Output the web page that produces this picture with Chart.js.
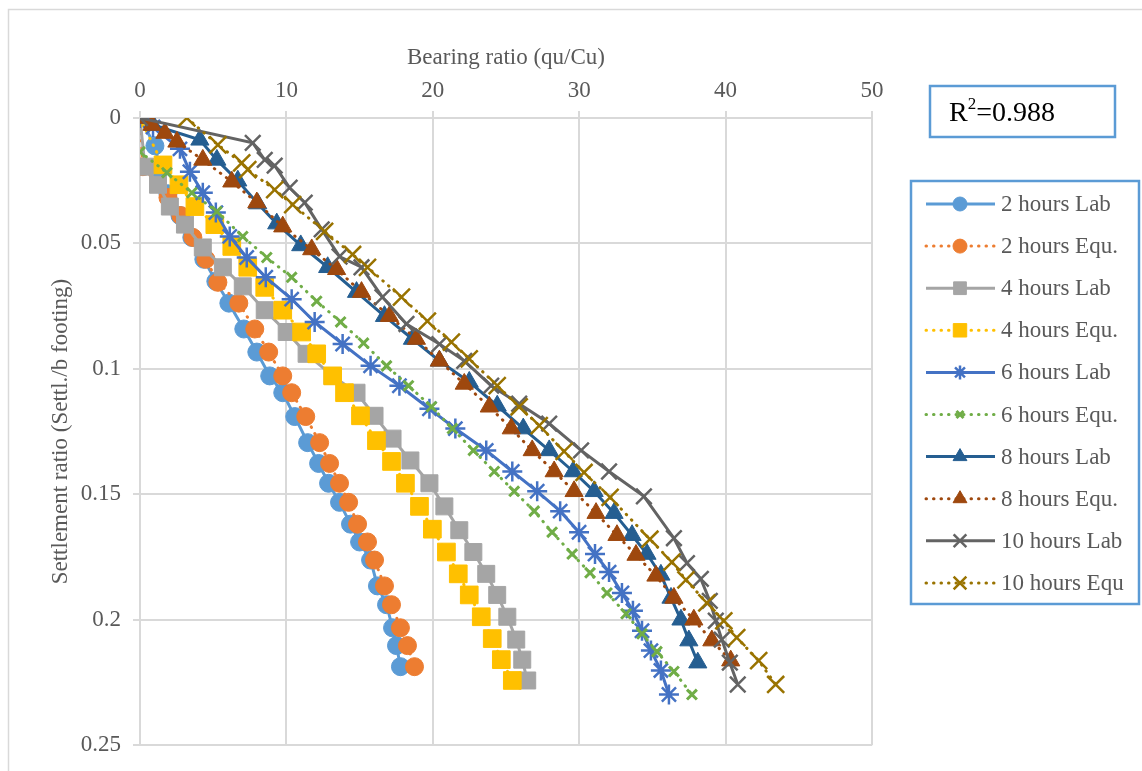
<!DOCTYPE html>
<html>
<head>
<meta charset="utf-8">
<script src="https://cdn.jsdelivr.net/npm/chart.js@4/dist/chart.umd.min.js"></script>
<style>
  html, body { margin: 0; padding: 0; background: #fff; }
  #wrap { position: relative; width: 1142px; height: 771px; }
</style>
</head>
<body>
<div id="wrap"><canvas id="settlementChart"></canvas></div>
<script>
// values: x = bearing ratio, y = settlement ratio
const lab2X = [0, 1.02, 1.36, 1.91, 2.73, 3.54, 4.36, 5.18, 6.07, 7.09, 7.98, 8.86, 9.75, 10.57, 11.45, 12.2, 12.88, 13.63, 14.38, 15.0, 15.75, 16.22, 16.84, 17.25, 17.52, 17.79];
const lab2Y = [0, 0.0111, 0.0206, 0.0302, 0.0389, 0.0476, 0.0563, 0.0651, 0.0738, 0.0841, 0.0933, 0.1028, 0.1095, 0.1190, 0.1294, 0.1377, 0.1456, 0.1532, 0.1619, 0.1690, 0.1762, 0.1865, 0.1940, 0.2032, 0.2103, 0.2187];

const equ2X = [0, 0.2, 1.91, 2.79, 3.61, 4.5, 5.32, 6.75, 7.84, 8.79, 9.75, 10.36, 11.32, 12.27, 12.95, 13.63, 14.25, 14.86, 15.54, 16.02, 16.7, 17.18, 17.79, 18.27, 18.75];
const equ2Y = [0, 0.0194, 0.0317, 0.0389, 0.0476, 0.0563, 0.0655, 0.0738, 0.0841, 0.0933, 0.1028, 0.1095, 0.1190, 0.1294, 0.1377, 0.1456, 0.1532, 0.1619, 0.1690, 0.1762, 0.1865, 0.1940, 0.2032, 0.2103, 0.2187];

const lab4X = [0, 0.34, 1.23, 2.04, 3.07, 4.29, 5.66, 7.02, 8.52, 10.02, 11.38, 13.15, 14.79, 16.02, 17.25, 18.47, 19.77, 20.79, 21.81, 22.77, 23.65, 24.4, 25.09, 25.7, 26.11, 26.45];
const lab4Y = [0, 0.0194, 0.0266, 0.0353, 0.0425, 0.0516, 0.0595, 0.0671, 0.0766, 0.0853, 0.0940, 0.1028, 0.1095, 0.1187, 0.1278, 0.1365, 0.1456, 0.1548, 0.1643, 0.1730, 0.1817, 0.1901, 0.1988, 0.2079, 0.2159, 0.2242];

const equ4X = [0, 1.57, 2.66, 3.75, 5.11, 6.27, 7.36, 8.52, 9.75, 11.04, 12.07, 13.16, 13.97, 15.06, 16.15, 17.18, 18.13, 19.09, 19.97, 20.93, 21.74, 22.49, 23.31, 24.06, 24.68, 25.43];
const equ4Y = [0, 0.0187, 0.0266, 0.0353, 0.0425, 0.0512, 0.0595, 0.0675, 0.0766, 0.0853, 0.0940, 0.1028, 0.1095, 0.1187, 0.1286, 0.1369, 0.1456, 0.1548, 0.1639, 0.1730, 0.1817, 0.1901, 0.1988, 0.2075, 0.2159, 0.2242];

const lab6X = [0, 0.89, 2.73, 3.41, 4.29, 5.18, 6.13, 7.29, 8.59, 10.36, 11.93, 13.84, 15.75, 17.72, 19.77, 21.54, 23.65, 25.43, 27.13, 28.7, 29.99, 31.08, 32.04, 32.92, 33.67, 34.29, 34.9, 35.58, 36.13];
const lab6Y = [0, 0.0036, 0.0123, 0.0214, 0.0298, 0.0377, 0.0472, 0.0556, 0.0635, 0.0722, 0.0813, 0.0901, 0.0988, 0.1067, 0.1159, 0.1238, 0.1325, 0.1409, 0.1488, 0.1567, 0.1651, 0.1738, 0.1810, 0.1893, 0.1964, 0.2044, 0.2123, 0.2202, 0.2298];

const equ6X = [0, 1.84, 3.54, 5.25, 7.02, 8.66, 10.36, 12.07, 13.7, 15.27, 16.84, 18.34, 19.91, 21.34, 22.77, 24.2, 25.56, 26.93, 28.15, 29.52, 30.74, 31.9, 33.2, 34.29, 35.31, 36.47, 37.7];
const equ6Y = [0.0135, 0.0218, 0.0298, 0.0373, 0.0472, 0.0556, 0.0635, 0.0730, 0.0813, 0.0897, 0.0988, 0.1067, 0.1151, 0.1238, 0.1325, 0.1409, 0.1488, 0.1567, 0.1651, 0.1738, 0.1813, 0.1893, 0.1976, 0.2056, 0.2127, 0.2206, 0.2298];

const lab8X = [0, 0.89, 4.09, 5.25, 6.68, 8.04, 9.34, 10.98, 12.82, 14.79, 16.7, 18.61, 20.45, 22.49, 24.4, 26.18, 27.95, 29.59, 31.02, 32.38, 33.61, 34.63, 35.58, 36.27, 36.95, 37.49, 38.1];
const lab8Y = [0, 0.0028, 0.0087, 0.0167, 0.0250, 0.0341, 0.0421, 0.0508, 0.0595, 0.0694, 0.0790, 0.0881, 0.0968, 0.1052, 0.1147, 0.1238, 0.1325, 0.1409, 0.1488, 0.1575, 0.1663, 0.1738, 0.1821, 0.1913, 0.2000, 0.2083, 0.2171];

const equ8X = [0, 0.82, 1.70, 2.52, 4.29, 6.27, 7.98, 9.75, 11.73, 13.43, 15.13, 17.04, 18.88, 20.45, 22.15, 23.86, 25.36, 26.79, 28.29, 29.65, 31.15, 32.58, 33.88, 35.24, 36.47, 37.83, 39.06, 40.35];
const equ8Y = [0, 0.0028, 0.0060, 0.0095, 0.0167, 0.0254, 0.0337, 0.0433, 0.0524, 0.0603, 0.0694, 0.0790, 0.0881, 0.0968, 0.1060, 0.1151, 0.1238, 0.1325, 0.1409, 0.1488, 0.1575, 0.1663, 0.1742, 0.1825, 0.1913, 0.2000, 0.2083, 0.2163];

const lab10X = [0, 7.70, 8.52, 9.2, 10.22, 11.25, 12.41, 13.63, 15.13, 16.56, 18.2, 20.45, 22.15, 23.99, 25.9, 27.95, 30.13, 32.04, 34.42, 36.47, 37.36, 38.31, 38.92, 39.33, 39.74, 40.29, 40.83];
const lab10Y = [0, 0.0099, 0.0167, 0.0190, 0.0278, 0.0337, 0.0444, 0.0552, 0.0595, 0.0714, 0.0821, 0.0901, 0.0968, 0.1067, 0.1139, 0.1218, 0.1325, 0.1409, 0.1508, 0.1675, 0.1774, 0.1837, 0.1925, 0.2004, 0.2079, 0.2171, 0.2258];

const equ10X = [3.20, 5.32, 6.95, 7.36, 9.2, 10.43, 12.61, 14.52, 15.54, 17.86, 19.63, 21.27, 22.49, 24.4, 25.9, 27.27, 28.97, 30.33, 32.11, 34.83, 36.33, 37.29, 38.72, 39.88, 40.76, 42.26, 43.42];
const equ10Y = [0, 0.0107, 0.0179, 0.0206, 0.0286, 0.0345, 0.0452, 0.0544, 0.0595, 0.0714, 0.0810, 0.0893, 0.0960, 0.1067, 0.1151, 0.1226, 0.1329, 0.1413, 0.1512, 0.1679, 0.1770, 0.1841, 0.1933, 0.2004, 0.2071, 0.2163, 0.2258];

const seriesNames = ["2 hours Lab", "2 hours Equ.", "4 hours Lab", "4 hours Equ.", "6 hours Lab",
                     "6 hours Equ.", "8 hours Lab", "8 hours Equ.", "10 hours Lab", "10 hours Equ"];
const xTicks = [0, 10, 20, 30, 40, 50];
const yTicks = [0, 0.05, 0.1, 0.15, 0.2, 0.25];
const yTickLabels = ["0", "0.05", "0.1", "0.15", "0.2", "0.25"];
const rSquared = "0.988";

const FONT = "'Liberation Serif', 'Times New Roman', serif";
const TEXT = "#595959";
const GRID = "#D9D9D9";

function pts(xs, ys) {
    return xs.map((x, i) => ({ x: x, y: ys[i] }));
}

// style per series: colour, marker, dotted or not
function series(i, xs, ys, color, style, radius, dotted, legendRadius, pointBorder) {
    return {
        label: seriesNames[i],
        data: pts(xs, ys),
        showLine: true,
        borderColor: color,
        backgroundColor: color,
        borderWidth: 3,
        borderDash: dotted ? [0.5, 7] : [],
        borderCapStyle: dotted ? "round" : "butt",
        pointStyle: style,
        pointRadius: radius,
        pointBorderWidth: pointBorder || 1,
        pointBackgroundColor: color,
        pointBorderColor: color,
        legendRadius: legendRadius,
        order: 10 - i,
    };
}

const datasets = [
    series(0, lab2X, lab2Y, "#5B9BD5", "circle", 9, false, 7),
    series(1, equ2X, equ2Y, "#ED7D31", "circle", 9, true, 7),
    series(2, lab4X, lab4Y, "#A5A5A5", "rect", 12, false, 9),
    series(3, equ4X, equ4Y, "#FFC000", "rect", 12.5, true, 9.5),
    series(4, lab6X, lab6Y, "#4472C4", "star", 10, false, 7, 2.5),
    series(5, equ6X, equ6Y, "#70AD47", "crossRot", 7, true, 5, 3),
    series(6, lab8X, lab8Y, "#255E91", "triangle", 10.5, false, 8),
    series(7, equ8X, equ8Y, "#9E480E", "triangle", 10.5, true, 8),
    series(8, lab10X, lab10Y, "#636363", "crossRot", 11, false, 9, 2.5),
    series(9, equ10X, equ10Y, "#997300", "crossRot", 12, true, 9, 2.5),
];

// frame, R² box and legend box
const decorations = {
    id: "decorations",
    beforeDraw(chart) {
        const ctx = chart.ctx;
        ctx.save();
        ctx.fillStyle = "#fff";
        ctx.fillRect(0, 0, chart.width, chart.height);
        ctx.strokeStyle = GRID;
        ctx.lineWidth = 1.5;
        ctx.strokeRect(8.5, 9.5, 1200, 800);
        ctx.restore();
    },
    afterDraw(chart) {
        const ctx = chart.ctx;
        ctx.save();
        // R² box
        ctx.strokeStyle = "#5B9BD5";
        ctx.lineWidth = 2.5;
        ctx.strokeRect(930, 86, 185, 51);
        ctx.fillStyle = "#000";
        ctx.textBaseline = "alphabetic";
        ctx.textAlign = "left";
        ctx.font = "28px " + FONT;
        let x = 949;
        ctx.fillText("R", x, 121);
        x += ctx.measureText("R").width;
        ctx.font = "17px " + FONT;
        ctx.fillText("2", x, 109);
        x += ctx.measureText("2").width;
        ctx.font = "28px " + FONT;
        ctx.fillText("=" + rSquared, x, 121);

        // legend
        ctx.strokeStyle = "#5B9BD5";
        ctx.lineWidth = 2.5;
        ctx.strokeRect(911, 181, 228, 423);
        chart.data.datasets.forEach((ds, i) => {
            const y = 204 + i * 42.1;
            ctx.save();
            ctx.strokeStyle = ds.borderColor;
            ctx.lineWidth = ds.borderWidth;
            ctx.lineCap = ds.borderCapStyle;
            ctx.setLineDash(ds.borderDash);
            ctx.beginPath();
            ctx.moveTo(926, y);
            ctx.lineTo(995, y);
            ctx.stroke();
            ctx.restore();
            ctx.save();
            ctx.fillStyle = ds.pointBackgroundColor;
            ctx.strokeStyle = ds.pointBorderColor;
            ctx.lineWidth = ds.pointBorderWidth;
            Chart.helpers.drawPoint(ctx, {
                pointStyle: ds.pointStyle,
                radius: ds.legendRadius,
                borderWidth: ds.pointBorderWidth,
                rotation: 0,
            }, 960, y);
            ctx.restore();
            ctx.fillStyle = TEXT;
            ctx.font = "23px " + FONT;
            ctx.textBaseline = "middle";
            ctx.fillText(ds.label, 1001, y + 1);
        });
        ctx.restore();
    },
};

Chart.defaults.font.family = FONT;
Chart.defaults.font.size = 23;
Chart.defaults.color = TEXT;

const settlementCtx = document.getElementById("settlementChart").getContext("2d");
new Chart(settlementCtx, {
    type: "scatter",
    data: { datasets: datasets },
    options: {
        responsive: true,
        maintainAspectRatio: false,
        animation: false,
        layout: { padding: { left: 0, top: 0, right: 270, bottom: 23 } },
        plugins: { legend: { display: false }, tooltip: { enabled: false } },
        scales: {
            x: {
                type: "linear",
                position: "top",
                min: xTicks[0],
                max: xTicks[xTicks.length - 1],
                afterFit(scale) { scale.height = 118; },
                afterBuildTicks(scale) { scale.ticks = xTicks.map(v => ({ value: v })); },
                ticks: { padding: 6, color: TEXT, callback: v => String(v) },
                grid: { color: GRID, lineWidth: 2, tickLength: 7 },
                border: { color: GRID, width: 2 },
                title: {
                    display: true,
                    text: "Bearing ratio (qu/Cu)",
                    color: TEXT,
                    font: { size: 23 },
                    padding: { top: 44, bottom: 0 },
                },
            },
            y: {
                type: "linear",
                reverse: true,
                min: yTicks[0],
                max: yTicks[yTicks.length - 1],
                afterFit(scale) { scale.width = 140; },
                afterBuildTicks(scale) { scale.ticks = yTicks.map(v => ({ value: v })); },
                ticks: {
                    padding: 12,
                    color: TEXT,
                    callback: (v, i) => yTickLabels[i],
                },
                grid: { color: GRID, lineWidth: 2, tickLength: 7 },
                border: { color: GRID, width: 2 },
                title: {
                    display: true,
                    text: "Settlement ratio (Settl./b footing)",
                    color: TEXT,
                    font: { size: 23 },
                    padding: { top: 47, bottom: 0 },
                },
            },
        },
    },
    plugins: [decorations],
});
</script>
</body>
</html>
